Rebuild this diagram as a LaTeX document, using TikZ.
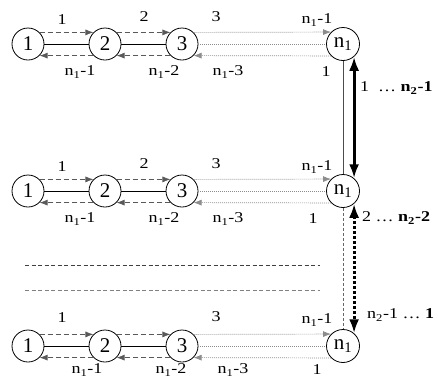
\documentclass[tikz,border=0pt]{standalone}
\usepackage{fontspec}
\usepackage{graphicx}
\setmainfont{Liberation Serif}
\usetikzlibrary{arrows.meta}
\newcommand\hs[1]{\scalebox{1.2}[1]{#1}}
\begin{document}
\begin{tikzpicture}[x=1pt,y=-1pt,
  st/.style={circle,draw,line width=0.8pt,minimum size=32pt,inner sep=0pt,font=\fontsize{21}{24}\selectfont},
  lbl/.style={font=\fontsize{15}{18}\selectfont,inner sep=0pt},
  dsh/.style={draw=black!65,dash pattern=on 5pt off 3pt,line width=0.7pt},
  dot/.style={draw=black!45,dash pattern=on 1pt off 1pt,line width=0.7pt},
  tip/.style={-{Latex[length=8pt,width=6pt]}},
  link/.style={draw=black,line width=0.7pt},
  big/.style={line width=3pt,{Latex[length=14pt,width=10pt]}-{Latex[length=14pt,width=10pt]}},
]
\useasboundingbox (0,0) rectangle (438,386);
% nodes
\foreach \r/\y in {a/44,b/191,c/346}{
  \node[st] (\r1) at (28,\y) {1};
  \node[st] (\r2) at (105,\y) {2};
  \node[st] (\r3) at (182,\y) {3};
  \node[st,minimum size=33pt] (\r4) at (343,\y) {n\textsubscript{1}};
  \draw[link] (\r1) -- (\r2);
  \draw[link] (\r2) -- (\r3);
  \draw[dsh,tip] (\r1.45) -- (\r2.135);
  \draw[dsh,tip] (\r2.-135) -- (\r1.-45);
  \draw[dsh,tip] (\r2.45) -- (\r3.135);
  \draw[dsh,tip] (\r3.-135) -- (\r2.-45);
  \draw[dot,tip] (\r3.45) -- (\r4.135);
  \draw[dot] (\r3) -- (\r4);
  \draw[dot,tip] (\r4.-135) -- (\r3.-45);
}
% row labels
\node[lbl] at (62,20) {\hs{1}};
\node[lbl] at (144,17) {\hs{2}};
\node[lbl] at (216,17) {\hs{3}};
\node[lbl] at (317,20) {\hs{n\textsubscript{1}-1}};
\node[lbl] at (80,72) {\hs{n\textsubscript{1}-1}};
\node[lbl] at (164,72) {\hs{n\textsubscript{1}-2}};
\node[lbl] at (228,72) {\hs{n\textsubscript{1}-3}};
\node[lbl] at (326,72) {\hs{1}};

\node[lbl] at (62,167) {\hs{1}};
\node[lbl] at (144,164) {\hs{2}};
\node[lbl] at (216,164) {\hs{3}};
\node[lbl] at (317,167) {\hs{n\textsubscript{1}-1}};
\node[lbl] at (80,219) {\hs{n\textsubscript{1}-1}};
\node[lbl] at (164,219) {\hs{n\textsubscript{1}-2}};
\node[lbl] at (228,219) {\hs{n\textsubscript{1}-3}};
\node[lbl] at (313,219) {\hs{1}};

\node[lbl] at (62,318) {\hs{1}};
\node[lbl] at (216,317) {\hs{3}};
\node[lbl] at (317,320) {\hs{n\textsubscript{1}-1}};
\node[lbl] at (87,370) {\hs{n\textsubscript{1}-1}};
\node[lbl] at (171,370) {\hs{n\textsubscript{1}-2}};
\node[lbl] at (233,370) {\hs{n\textsubscript{1}-3}};
\node[lbl] at (317,370) {\hs{1}};
% vertical links
\draw[draw=black!70,line width=0.7pt] (a4) -- (b4);
\draw[big] (a4.-49) -- (b4.49);
\draw[draw=black!60,dash pattern=on 3pt off 2pt,line width=0.7pt] (b4) -- (c4);
\draw[big,dash pattern=on 3pt off 2pt] (b4.-49) -- (c4.49);
\node[lbl,anchor=west] (l1) at (360,88) {\hs{1\ \ \ldots\ \textbf{n\textsubscript{2}-1}}};
\node[lbl,anchor=west] (l2) at (362,218) {\hs{2 \ldots\ \textbf{n\textsubscript{2}-2}}};
\node[lbl,anchor=west] (l3) at (367,315) {\hs{n\textsubscript{2}-1 \ldots\ \textbf{1}}};
% separators
\draw[black!75,dash pattern=on 4pt off 2.5pt,line width=0.7pt] (25,265) -- (320,265);
\draw[black!50,dash pattern=on 4pt off 2.5pt,line width=0.9pt] (25,290) -- (320,290);
\end{tikzpicture}
\end{document}
